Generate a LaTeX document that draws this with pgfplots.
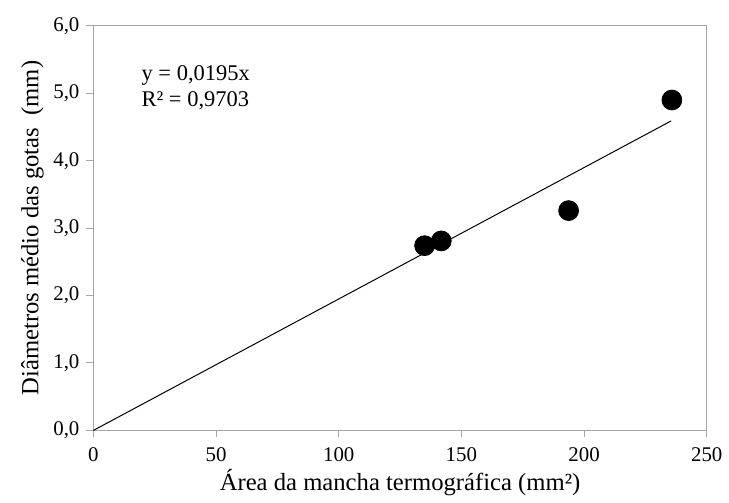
\documentclass[border=0pt]{standalone}
\usepackage{fontspec}
\setmainfont{Liberation Serif}
\usepackage{pgfplots}
\pgfplotsset{compat=1.18}

\begin{document}
\begin{tikzpicture}
    \begin{axis}[
            scale only axis,
            width=308.5pt,
            height=203.5pt,
            xmin=0, xmax=250,
            ymin=0, ymax=6,
            xtick={0,50,...,250},
            ytick={0,1,...,6},
            axis line style={gray!70, line width=0.5pt},
            tick style={gray!70, line width=0.5pt},
            tick align=outside,
            major tick length=3.5pt,
            xtick pos=bottom,
            ytick pos=left,
            clip=false,
            /pgf/number format/assume math mode=true,
            yticklabel style={/pgf/number format/.cd, fixed, fixed zerofill, precision=1, use comma},
            ticklabel style={font=\fontsize{10.5}{12}\selectfont, black},
            xticklabel style={yshift=-1.5pt},
            label style={font=\fontsize{12.4}{14}\selectfont},
            xlabel={Área da mancha termográfica (mm²)},
            ylabel={Diâmetros médio das gotas\ \ (mm)},
            xlabel style={yshift=3pt},
            ylabel style={yshift=-2pt},
        ]

        % linha de tendencia y = 0,0195x
        \addplot[black, line width=0.5pt, no marks] coordinates {
                (0, 0) (235.5, 4.59)
            };

        % dados medidos
        \addplot[only marks, mark=*, mark size=5pt, black] coordinates {
                (135, 2.74) (141.8, 2.81) (193.7, 3.26) (235.8, 4.90)
            };

        \node[anchor=north west, align=left, inner sep=0pt,
            font=\fontsize{11.3}{13}\selectfont]
            at (axis cs:19.5, 5.42) {y = 0,0195x\\R² = 0,9703};

        % margem da figura
        \path (rel axis cs:-0.1523, -0.1769) rectangle (rel axis cs:1.0276, 1.0639);
    \end{axis}
\end{tikzpicture}
\end{document}
